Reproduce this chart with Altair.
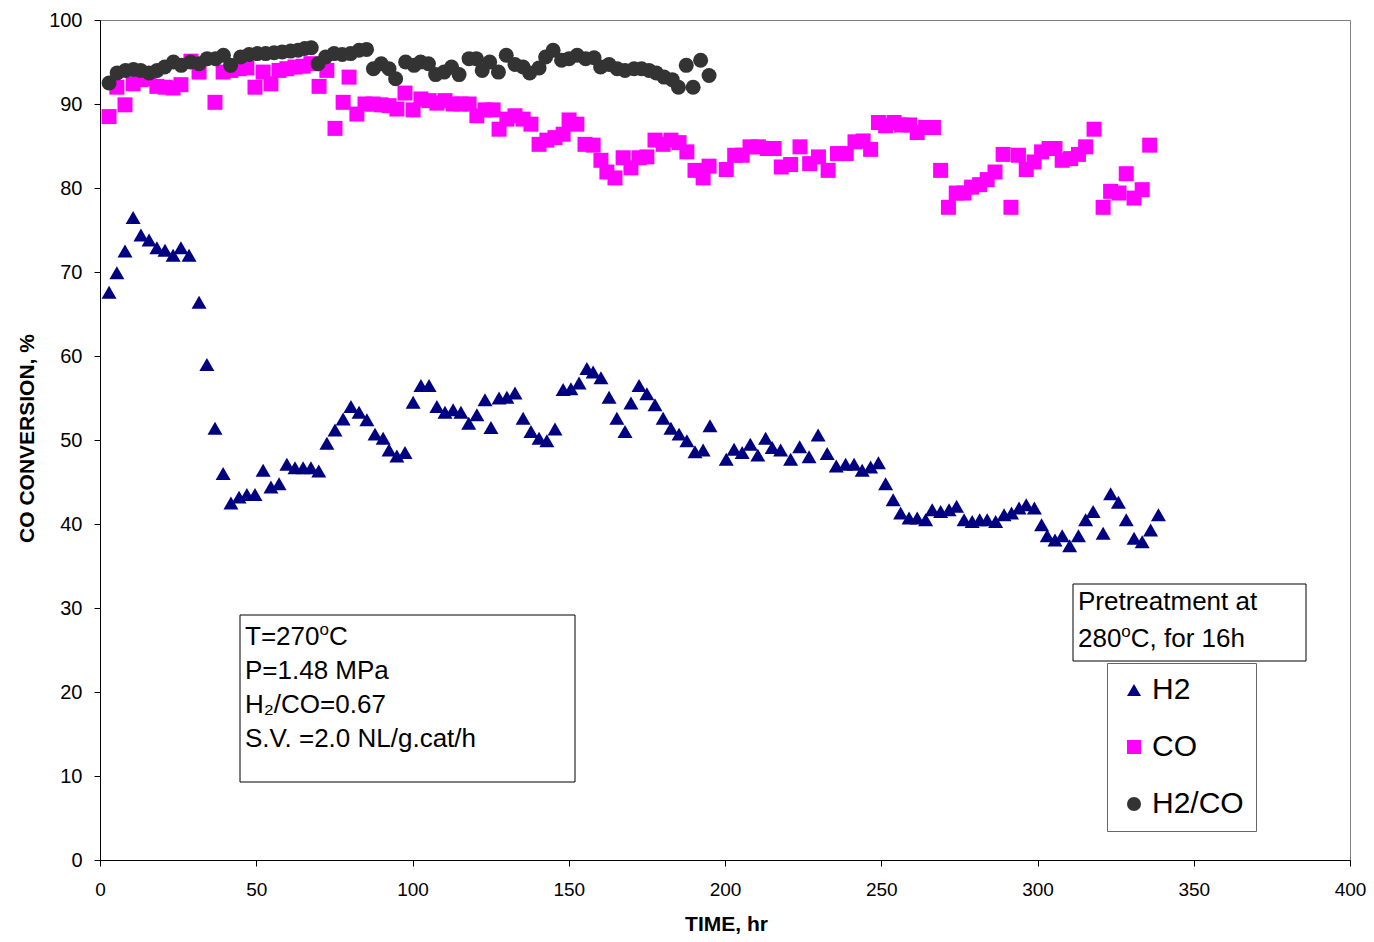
import altair as alt
import pandas as pd

# ---------------- data ----------------
series_names = ["H2", "CO", "H2/CO"]

h2_t = [2.9, 5.4, 8.0, 10.6, 13.1, 15.7, 18.2, 20.8, 23.4, 25.9, 28.5, 31.7, 34.2, 36.8, 39.4,
        41.9, 44.5, 47.0, 49.6, 52.2, 54.7, 57.3, 59.8, 62.4, 65.0, 67.5, 70.0, 72.6, 75.2, 77.8,
        80.3, 82.9, 85.4, 88.0, 90.6, 92.5, 95.0, 97.6, 100.2, 102.7, 105.3, 107.8, 110.4, 113.0,
        115.5, 118.0, 120.6, 123.2, 125.1, 127.7, 130.2, 132.8, 135.4, 137.9, 140.5, 143.0, 145.6,
        148.2, 150.7, 153.3, 155.8, 157.8, 160.3, 162.9, 165.4, 168.0, 169.9, 172.5, 175.0, 177.6,
        180.2, 182.7, 185.3, 187.8, 190.4, 193.0, 195.2,
        200.4, 202.9, 205.5, 208.1, 210.5, 213.0, 215.1, 217.8, 221.0, 223.9, 226.9, 229.8, 232.7,
        235.6, 238.6, 241.3, 243.9, 246.6, 249.1, 251.4, 253.8, 256.2, 258.9, 261.5, 264.2, 266.3,
        269.0, 271.7, 274.1, 276.5, 279.1, 281.5, 283.9, 286.6, 289.3, 291.7, 294.1, 296.4, 299.0,
        301.3, 303.1, 305.6, 307.9, 310.3, 313.1, 315.4, 317.8, 321.0, 323.4, 325.9, 328.4, 330.9,
        333.5, 336.2, 338.7]
h2_v = [67.6, 69.9, 72.5, 76.5, 74.4, 73.8, 72.9, 72.6, 72.0, 72.9, 72.0, 66.4, 59.0, 51.4, 46.0,
        42.5, 43.2, 43.5, 43.5, 46.4, 44.4, 44.8, 47.1, 46.7, 46.7, 46.7, 46.3, 49.6, 51.2, 52.5,
        54.0, 53.3, 52.4, 50.7, 50.2, 48.8, 48.1, 48.5, 54.5, 56.5, 56.5, 54.0, 53.3, 53.6,
        53.3, 52.0, 53.0, 54.8, 51.5, 55.0, 55.1, 55.6, 52.6, 51.0, 50.2, 49.9, 51.3,
        56.0, 56.1, 56.8, 58.5, 58.1, 57.4, 55.1, 52.6, 51.0, 54.4, 56.5, 55.5, 54.2,
        52.6, 51.4, 50.7, 49.9, 48.6, 48.8, 51.7,
        47.7, 48.9, 48.5, 49.5, 48.2, 50.2, 49.1, 48.8, 47.7, 49.2, 48.0, 50.6, 48.4,
        46.9, 47.1, 47.1, 46.4, 46.8, 47.3, 44.8, 42.9, 41.3, 40.7, 40.7, 40.5, 41.7,
        41.5, 41.7, 42.1, 40.5, 40.3, 40.5, 40.5, 40.3, 41.1, 41.3, 41.9, 42.3, 41.9,
        39.9, 38.6, 38.1, 38.6, 37.4, 38.6, 40.5, 41.5, 38.9, 43.6, 42.6, 40.5, 38.3,
        37.9, 39.3, 41.1]

co_t = [2.9, 5.4, 8.0, 10.6, 13.1, 15.7, 18.2, 20.8, 23.4, 25.9, 29.1, 31.7, 36.8, 39.4, 41.9,
        44.5, 47.0, 49.6, 52.2, 54.7, 57.3, 59.8, 62.4, 65.0, 67.5, 70.1, 72.6, 75.2, 77.8, 79.7,
        82.2, 84.8, 87.4, 89.9, 92.5, 95.0, 97.6, 100.2, 102.7, 105.3, 107.8, 110.4, 113.0, 115.5,
        118.1, 120.6, 123.2, 125.8, 127.7, 130.2, 132.8, 135.4, 137.9, 140.5, 143.0, 145.6, 148.2,
        150.1, 152.6, 155.2, 157.8, 160.3, 162.2, 164.8, 167.4, 169.9, 172.5, 175.0, 177.6, 180.2,
        182.7, 185.3, 187.8, 190.4, 193.0, 194.9,
        200.4, 203.1, 205.5, 208.0, 210.7, 213.5, 215.7, 218.0, 221.0, 224.0, 227.1, 229.9, 233.0,
        236.0, 238.8, 241.6, 244.2, 246.6, 249.1, 251.4, 254.1, 256.5, 259.1, 261.5, 264.2, 266.7,
        269.0, 271.5, 274.0, 276.5, 278.9, 281.5, 283.9, 286.4, 289.0, 291.5, 293.9, 296.4, 298.9,
        301.3, 303.7, 305.6, 307.9, 310.6, 313.1, 315.4, 318.1, 321.0, 323.4, 326.1, 328.4, 330.9,
        333.5, 335.9]
co_v = [88.5, 92.0, 89.9, 92.4, 92.9, 93.0, 92.1, 92.0, 91.9, 92.3, 95.1, 93.8, 90.2, 93.8, 94.0,
        94.2, 94.3, 92.0, 93.8, 92.4, 94.0, 94.2, 94.4, 94.5, 94.8, 92.1, 94.0, 87.1, 90.2, 93.2,
        88.8, 90.0, 90.0, 89.9, 89.8, 89.4, 91.3, 89.3, 90.6, 90.4, 90.1, 90.4, 90.0, 90.0,
        90.0, 88.6, 89.3, 89.3, 87.0, 88.2, 88.6, 88.2, 87.6, 85.2, 85.7, 86.0, 86.4,
        88.1, 87.6, 85.2, 85.1, 83.3, 81.9, 81.2, 83.6, 82.4, 83.6, 83.7, 85.7, 85.2,
        85.7, 85.4, 84.3, 82.1, 81.2, 82.6,
        82.2, 83.9, 83.9, 84.9, 84.9, 84.7, 84.7, 82.5, 82.8, 84.9, 82.9, 83.7, 82.1,
        84.1, 84.1, 85.5, 85.6, 84.6, 87.8, 87.4, 87.8, 87.5, 87.5, 86.6, 87.2, 87.2,
        82.1, 77.7, 79.4, 79.4, 80.1, 80.4, 81.0, 81.9, 84.0, 77.7, 83.9, 82.2, 83.1,
        84.3, 84.7, 84.7, 83.3, 83.5, 84.0, 84.9, 87.0, 77.7, 79.6, 79.4, 81.7, 78.8,
        79.8, 85.1]

ratio_t = [2.9, 5.5, 8.2, 10.7, 13.0, 15.7, 18.3, 20.7, 23.5, 26.0, 29.0, 31.7, 34.3, 37.0, 39.5,
           41.8, 45.0, 47.7, 50.3, 53.0, 55.7, 58.3, 61.0, 63.4, 65.5, 67.6, 69.8, 72.2, 74.9, 77.5,
           80.2, 82.9, 85.3, 87.5, 90.0, 92.5, 94.6, 97.8, 100.5, 102.6, 105.1, 107.4, 110.1, 112.5,
           114.9, 118.1, 120.4, 122.3, 124.7, 127.5, 130.0, 132.8, 135.4, 137.5, 140.5, 142.6, 145.0,
           147.7, 150.1, 152.7, 155.4, 158.1, 160.2, 162.9, 165.5, 168.0, 170.9, 173.3, 175.7, 178.0,
           180.5, 183.1, 185.1, 187.6, 189.8, 192.2, 194.9]
ratio_v = [92.5, 93.7, 94.0, 94.1, 94.0, 93.7, 94.0, 94.4, 95.0, 94.6, 95.0, 94.8, 95.4, 95.4, 95.8,
           94.6, 95.6, 95.9, 96.0, 96.0, 96.1, 96.2, 96.3, 96.4, 96.6, 96.7, 94.8, 95.6, 96.0, 95.9,
           96.0, 96.4, 96.5, 94.2, 94.8, 94.2, 93.0, 95.0, 94.6, 95.0, 94.8, 93.5, 93.8, 94.4,
           93.5, 95.4, 95.4, 94.0, 95.0, 93.8, 95.8, 94.7, 94.4, 93.7, 94.3, 95.6, 96.4,
           95.2, 95.4, 95.8, 95.4, 95.5, 94.4, 94.7, 94.2, 94.0, 94.2, 94.2, 94.0, 93.7,
           93.2, 92.9, 92.0, 94.6, 92.0, 95.2, 93.4]

x_ticks = [0, 50, 100, 150, 200, 250, 300, 350, 400]
y_ticks = [0, 10, 20, 30, 40, 50, 60, 70, 80, 90, 100]

# text pieces: (main text before superscript, superscript, rest)
box1_first = ("T=270", "o", "C")
box1_lines = ["P=1.48 MPa", "H\u2082/CO=0.67", "S.V. =2.0 NL/g.cat/h"]
box2_first = "Pretreatment at"
box2_second = ("280", "o", "C, for 16h")

# ---------------- build table ----------------
df = pd.concat([
    pd.DataFrame({"t": h2_t, "v": h2_v, "series": "H2"}),
    pd.DataFrame({"t": co_t, "v": co_v, "series": "CO"}),
    pd.DataFrame({"t": ratio_t, "v": ratio_v, "series": "H2/CO"}),
], ignore_index=True)

FONT = "Liberation Sans"
FS = 26          # annotation font size
SUP = 17         # superscript font size
colors = ["#000080", "#FF00FF", "#333333"]
shapes = ["triangle-up", "square", "circle"]

legend = alt.Legend(
    title=None, orient="none", legendX=1007, legendY=643, padding=12,
    strokeColor="#666666", fillColor="white", labelFontSize=30, labelFont=FONT,
    labelColor="black", symbolSize=196, rowPadding=27, labelOffset=3,
    symbolStrokeWidth=0, symbolOpacity=1,
)

points = alt.Chart(df).mark_point(filled=True, opacity=1, size=225, strokeWidth=0).encode(
    x=alt.X("t:Q", scale=alt.Scale(domain=[0, 400], nice=False, zero=False),
            axis=alt.Axis(values=x_ticks, title="TIME, hr", grid=False, tickSize=6,
                          labelFlush=False, labelOverlap=False,
                          labelPadding=14, labelFontSize=19, labelFont=FONT, labelColor="black",
                          titleFont=FONT, titleFontSize=21, titleFontWeight="bold",
                          titleColor="black", titleX=626, titleY=70,
                          titleBaseline="alphabetic", domainColor="black", tickColor="black")),
    y=alt.Y("v:Q", scale=alt.Scale(domain=[0, 100], nice=False, zero=False),
            axis=alt.Axis(values=y_ticks, title="CO CONVERSION, %", grid=False, tickSize=6,
                          labelFlush=False, labelOverlap=False,
                          labelPadding=12, labelFontSize=20, labelFont=FONT, labelColor="black",
                          titleFont=FONT, titleFontSize=21, titleFontWeight="bold",
                          titleColor="black", titleX=-67, titleY=418,
                          titleBaseline="alphabetic", domainColor="black", tickColor="black")),
    color=alt.Color("series:N", scale=alt.Scale(domain=series_names, range=colors), legend=legend),
    shape=alt.Shape("series:N", scale=alt.Scale(domain=series_names, range=shapes), legend=legend),
)

one = pd.DataFrame({"a": [0]})

# Arial / Liberation Sans advance widths (em) for the characters used before a superscript
ADV = {"T": 0.611, "=": 0.584, "2": 0.556, "7": 0.556, "0": 0.556, "8": 0.556, "o": 0.556}


def width(s, fs):
    return sum(ADV[c] for c in s) * fs


def box(x1, x2, y1, y2):
    return alt.Chart(one).mark_rect(fill="white", stroke="black", strokeWidth=1).encode(
        x=alt.value(x1), x2=alt.value(x2), y=alt.value(y1), y2=alt.value(y2))


def label(txt, x, y, fs=FS):
    return alt.Chart(one).mark_text(align="left", baseline="alphabetic", fontSize=fs,
                                    font=FONT, color="black", text=txt).encode(
        x=alt.value(x), y=alt.value(y))


def sup_label(parts, x, y):
    a, s, b = parts
    xa = x + width(a, FS)
    xb = xa + width(s, SUP)
    return [label(a, x, y), label(s, xa, y - 10, SUP), label(b, xb, y)]


layers = [points, box(140, 475, 595, 762)]
layers += sup_label(box1_first, 145, 625)
for i, line in enumerate(box1_lines):
    layers.append(label(line, 145, 625 + (i + 1) * 34))
layers.append(box(973, 1206, 564, 641))
layers.append(label(box2_first, 978, 590))
layers += sup_label(box2_second, 978, 627)

chart = alt.layer(*layers).properties(
    width=1250, height=840,
    autosize=alt.AutoSizeParams(type="none"),
    padding={"left": 92, "top": 12, "right": 16, "bottom": 74},
    background="white",
).configure_view(stroke="#808080", strokeWidth=1)

chart.save("out.html", embed_options={"renderer": "svg", "actions": False})
